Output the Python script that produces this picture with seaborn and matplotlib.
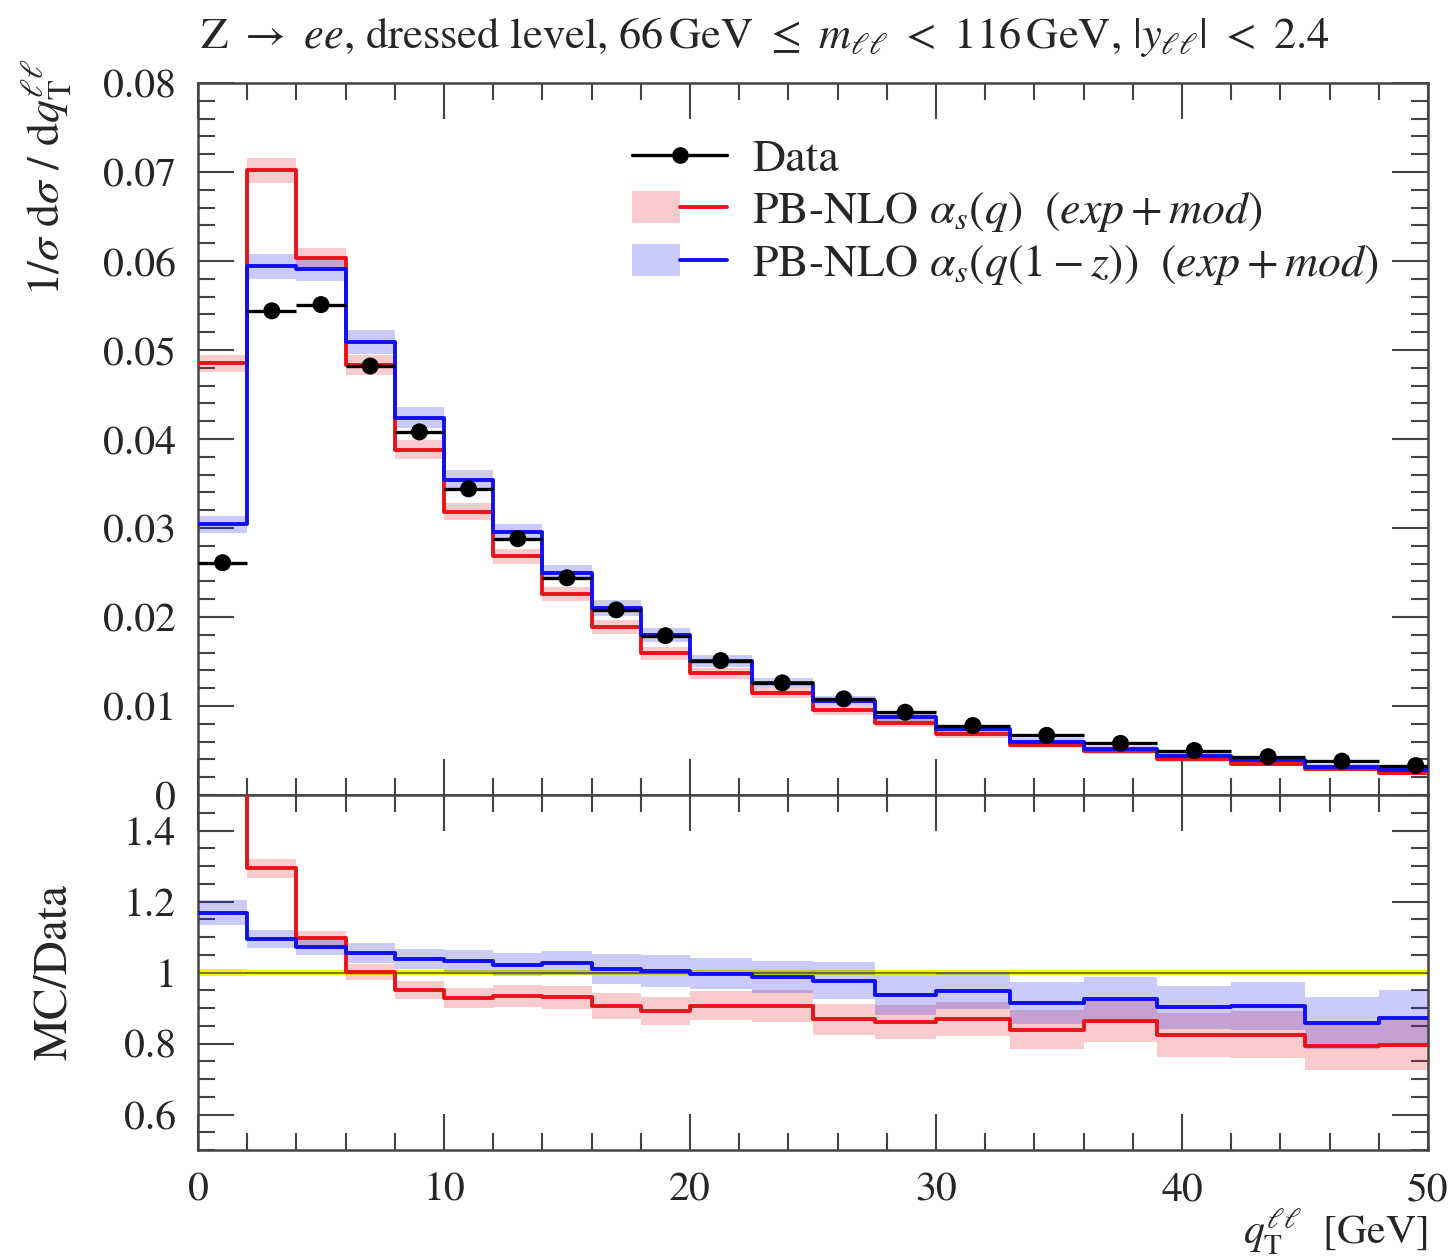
import numpy as np
import matplotlib
matplotlib.use("Agg")
import matplotlib.pyplot as plt
import seaborn as sns
from matplotlib.lines import Line2D
from matplotlib.patches import Patch
from matplotlib.legend_handler import HandlerTuple
from matplotlib.ticker import MultipleLocator, FuncFormatter

# ---------------- data ----------------
bin_edges = [0, 2, 4, 6, 8, 10, 12, 14, 16, 18, 20, 22.5, 25, 27.5, 30, 33, 36, 39, 42, 45, 48, 51]

data_vals = [0.0261, 0.0544, 0.0551, 0.0482, 0.0408, 0.0344, 0.0288, 0.0244, 0.0208, 0.0179, 0.0151,
             0.0126, 0.0108, 0.0093, 0.0078, 0.0067, 0.0058, 0.0050, 0.0043, 0.0038, 0.0033]
data_rel_err = [0.010, 0.008, 0.008, 0.007, 0.007, 0.006, 0.006, 0.006, 0.006, 0.006, 0.006,
                0.006, 0.006, 0.006, 0.006, 0.006, 0.006, 0.006, 0.006, 0.006, 0.006]

red_vals = [0.0485, 0.0702, 0.0603, 0.0483, 0.0388, 0.0318, 0.0268, 0.0226, 0.0189, 0.0159, 0.0137,
            0.0115, 0.0095, 0.0081, 0.0068, 0.0056, 0.0049, 0.0040, 0.0035, 0.0029, 0.0025]
blue_vals = [0.0304, 0.0594, 0.0591, 0.0509, 0.0424, 0.0354, 0.0295, 0.0250, 0.0210, 0.0180, 0.0151,
             0.0126, 0.0106, 0.0088, 0.0074, 0.0060, 0.0052, 0.0044, 0.0039, 0.0032, 0.0028]

red_ratio = [1.86, 1.293, 1.096, 1.002, 0.951, 0.928, 0.934, 0.930, 0.906, 0.892, 0.906,
             0.906, 0.868, 0.860, 0.869, 0.839, 0.864, 0.825, 0.825, 0.793, 0.797]
blue_ratio = [1.169, 1.094, 1.073, 1.055, 1.038, 1.033, 1.022, 1.026, 1.009, 1.004, 0.997,
              0.988, 0.977, 0.936, 0.949, 0.913, 0.925, 0.902, 0.905, 0.857, 0.871]

red_rel_err = [0.020, 0.020, 0.020, 0.023, 0.027, 0.030, 0.033, 0.035, 0.040, 0.045, 0.045,
               0.050, 0.050, 0.055, 0.055, 0.065, 0.070, 0.075, 0.080, 0.085, 0.090]
blue_rel_err = [0.031, 0.024, 0.023, 0.026, 0.028, 0.030, 0.032, 0.033, 0.042, 0.044, 0.044,
                0.046, 0.053, 0.060, 0.055, 0.065, 0.068, 0.068, 0.075, 0.085, 0.090]

title_text = (r"Z $\rightarrow$ $ee$, dressed level, 66$\,$GeV $\leq$ $m_{\ell\ell}$ $<$ "
              r"116$\,$GeV, $|y_{\ell\ell}|$ $<$ 2.4")
label_data = "Data"
label_red = r"PB-NLO $\alpha_s(q)\ \ (exp + mod)$"
label_blue = r"PB-NLO $\alpha_s(q(1-z))\ \ (exp + mod)$"

# ---------------- style ----------------
sns.set_style("ticks")
plt.rcParams.update({
    "font.family": ["STIXGeneral", "DejaVu Serif"],
    "mathtext.fontset": "stix",
    "axes.edgecolor": "#444444",
    "axes.linewidth": 1.8,
})

RED = "#e8141a"
BLUE = "#1010f0"
FS_TICK = 30
FS_TEXT = 32

W, H = 1454, 1259
fig = plt.figure(figsize=(W / 100, H / 100), dpi=100)
L = 198 / W
AW = (1428 - 198) / W
ax1 = fig.add_axes([L, 1 - 795 / H, AW, (795 - 83) / H])
ax2 = fig.add_axes([L, 1 - 1150 / H, AW, (1150 - 795) / H])

edges = np.array(bin_edges, dtype=float)
centers = 0.5 * (edges[:-1] + edges[1:])
halfw = 0.5 * (edges[1:] - edges[:-1])


def ext(v):
    v = np.asarray(v, dtype=float)
    return np.append(v, v[-1])


def step_line(ax, vals, color, lw, z):
    sns.lineplot(x=edges, y=ext(vals), drawstyle="steps-post", color=color, lw=lw,
                 ax=ax, estimator=None, sort=False, zorder=z, legend=False)


def band(ax, lo, hi, color, alpha, z):
    ax.fill_between(edges, ext(lo), ext(hi), step="post", color=color, alpha=alpha,
                    lw=0, zorder=z)


# ---- upper panel ----
rv, bv, dv = np.array(red_vals), np.array(blue_vals), np.array(data_vals)
re, be = np.array(red_rel_err), np.array(blue_rel_err)
band(ax1, rv * (1 - re), rv * (1 + re), RED, 0.22, 1)
band(ax1, bv * (1 - be), bv * (1 + be), BLUE, 0.22, 1)
step_line(ax1, rv, RED, 2.8, 3)
step_line(ax1, bv, BLUE, 2.8, 4)
ax1.errorbar(centers, dv, xerr=halfw, fmt="none", ecolor="black", elinewidth=2.4,
             capsize=0, zorder=5)
sns.scatterplot(x=centers, y=dv, color="black", s=150, edgecolor="none", ax=ax1,
                zorder=6, legend=False)

# ---- ratio panel ----
rr, br = np.array(red_ratio), np.array(blue_ratio)
de = np.array(data_rel_err)
band(ax2, 1 - de, 1 + de, "#f5f500", 1.0, 1)
ax2.axhline(1.0, color="#666633", lw=1.2, zorder=2)
band(ax2, rr * (1 - re), rr * (1 + re), RED, 0.22, 2)
band(ax2, br * (1 - be), br * (1 + be), BLUE, 0.22, 2)
step_line(ax2, rr, RED, 2.8, 3)
step_line(ax2, br, BLUE, 2.8, 4)

# ---- axes formatting ----
fmt = FuncFormatter(lambda v, p: f"{round(v, 4):g}")
for ax in (ax1, ax2):
    ax.set_xlim(0, 50)
    ax.xaxis.set_major_locator(MultipleLocator(10))
    ax.xaxis.set_minor_locator(MultipleLocator(2))
    ax.tick_params(which="both", direction="in", top=True, right=True,
                   color="#444444", width=1.5, labelsize=FS_TICK)
    ax.tick_params(which="major", length=26, pad=16)
    ax.tick_params(which="minor", length=12)
    ax.set_xlabel("")
    ax.set_ylabel("")
    ax.yaxis.set_major_formatter(fmt)
    ax.xaxis.set_major_formatter(fmt)

ax1.set_ylim(0, 0.08)
ax1.yaxis.set_major_locator(MultipleLocator(0.01))
ax1.yaxis.set_minor_locator(MultipleLocator(0.002))
ax1.tick_params(labelbottom=False)

ax2.set_ylim(0.5, 1.5)
ax2.yaxis.set_major_locator(MultipleLocator(0.2))
ax2.yaxis.set_minor_locator(MultipleLocator(0.05))
ax2.tick_params(axis="x", which="major", pad=16)

# ---- legend ----
h_data = Line2D([], [], color="black", lw=2.4, marker="o", markersize=11)
h_red = (Patch(facecolor=RED, alpha=0.22, lw=0), Line2D([], [], color=RED, lw=2.8))
h_blue = (Patch(facecolor=BLUE, alpha=0.22, lw=0), Line2D([], [], color=BLUE, lw=2.8))
ax1.legend([h_data, h_red, h_blue], [label_data, label_red, label_blue],
           handler_map={tuple: HandlerTuple(ndivide=None, pad=0)},
           loc="upper left", bbox_to_anchor=(0.353, 0.922), frameon=False,
           fontsize=33, handlelength=2.07, handletextpad=0.54, labelspacing=0.2,
           borderaxespad=0, borderpad=0)

# ---- texts ----
fig.text(200 / W, 1 - 37 / H, title_text, ha="left", va="center", fontsize=FS_TEXT)
fig.text(47 / W, 1 - 58 / H,
         r"$1/\sigma\ \mathrm{d}\sigma\ /\ \mathrm{d}q_{\mathrm{T}}^{\ell\ell}$",
         rotation=90, ha="center", va="top", fontsize=33)
fig.text(55 / W, 1 - 972 / H, "MC/Data", rotation=90, ha="center", va="center", fontsize=34)
fig.text(1428 / W, 1 - 1232 / H, r"$q_{\mathrm{T}}^{\ell\ell}$  [GeV]", ha="right",
         va="center", fontsize=30)

fig.savefig("out.png", dpi=100)
